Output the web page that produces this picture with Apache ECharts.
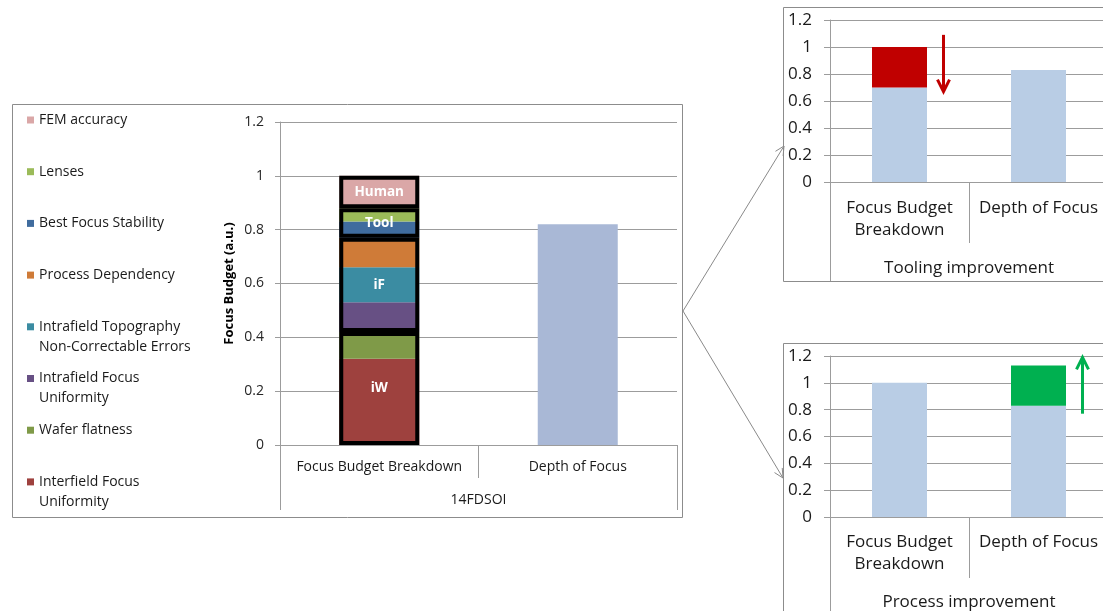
<!DOCTYPE html>
<html><head><meta charset="utf-8">
<script src="https://cdn.jsdelivr.net/npm/echarts@6/dist/echarts.min.js"></script>
<style>html,body{margin:0;padding:0;background:#fff;}#c{width:1103px;height:611px;}</style>
</head><body><div id="c"></div>
<script>
// ---- data ----
const categories = ['Focus Budget Breakdown', 'Depth of Focus'];
const groupCategory = ['14FDSOI'];
const componentNames = ['Interfield Focus\nUniformity', 'Wafer flatness', 'Intrafield Focus\nUniformity',
  'Intrafield Topography\nNon-Correctable Errors', 'Process Dependency', 'Best Focus Stability', 'Lenses', 'FEM accuracy'];
const componentValues = [0.32, 0.10, 0.11, 0.13, 0.11, 0.06, 0.05, 0.12];
const groupLabels = ['iW', 'iF', 'Tool', 'Human'];
const groupSizes = [2, 3, 2, 1];
const depthOfFocus = ['-', 0.82];
const yMin = 0, yMax = 1.2, yStep = 0.2;

const smallCategories = ['Focus Budget\nBreakdown', 'Depth of Focus'];
const toolingTitle = ['Tooling improvement'];
const toolingBase = [0.70, 0.83];
const toolingReduction = [0.30, '-'];
const processTitle = ['Process improvement'];
const processBase = [1.00, 0.83];
const processGain = ['-', 0.30];

// ---- styles ----
const componentColors = ['#9E413E', '#7F9A48', '#675084', '#3B8CA2', '#CF7B38', '#406C9E', '#9BBB59', '#DAA7A7'];
const FONT = 'Open Sans';
const gridGray = '#9c9c9c';

// group sums
const groupValues = [];
let k = 0;
groupSizes.forEach(n => {
  let s = 0;
  for (let j = 0; j < n; j++) s += componentValues[k++];
  groupValues.push(+s.toFixed(4));
});

const chart = echarts.init(document.getElementById('c'), null, {renderer: 'canvas'});

const series = [];
componentNames.forEach((name, i) => {
  series.push({
    type: 'bar', name, xAxisIndex: 0, yAxisIndex: 0, stack: 'budget',
    barWidth: 80, barGap: '-100%',
    itemStyle: {color: componentColors[i]},
    data: [componentValues[i], '-']
  });
});
series.push({
  type: 'bar', name: 'Depth of Focus', xAxisIndex: 0, yAxisIndex: 0, stack: 'budget',
  barWidth: 80, barGap: '-100%', itemStyle: {color: '#A9B8D6'}, data: depthOfFocus
});
groupLabels.forEach((g, i) => {
  series.push({
    type: 'bar', name: 'box-' + g, xAxisIndex: 0, yAxisIndex: 0, stack: 'box',
    barWidth: 80, barGap: '-100%', silent: true,
    itemStyle: {color: 'rgba(0,0,0,0)', borderColor: '#000', borderWidth: 4},
    label: {show: true, position: 'inside', formatter: g, color: '#fff', fontWeight: 'bold',
      fontSize: 13.5, fontFamily: FONT},
    data: [groupValues[i], '-']
  });
});
// small charts
series.push({type: 'bar', xAxisIndex: 2, yAxisIndex: 1, stack: 't', barWidth: 55,
  itemStyle: {color: '#B9CDE5'}, data: toolingBase});
series.push({type: 'bar', xAxisIndex: 2, yAxisIndex: 1, stack: 't', barWidth: 55,
  itemStyle: {color: '#C00000'}, data: toolingReduction});
series.push({type: 'bar', xAxisIndex: 4, yAxisIndex: 2, stack: 'p', barWidth: 55,
  itemStyle: {color: '#B9CDE5'}, data: processBase});
series.push({type: 'bar', xAxisIndex: 4, yAxisIndex: 2, stack: 'p', barWidth: 55,
  itemStyle: {color: '#00B050'}, data: processGain});

// legends (top item = last component)
const legends = [];
const legendFirst = 120, legendStep = 51.7;
for (let r = 0; r < componentNames.length; r++) {
  const name = componentNames[componentNames.length - 1 - r];
  const two = name.indexOf('\n') >= 0;
  const center = legendFirst + r * legendStep;
  legends.push({
    data: [name], left: 27, top: center - (two ? 30 : 10), padding: 0,
    itemWidth: 7, itemHeight: 7, icon: 'rect', selectedMode: false,
    // a leading blank line keeps the first text line level with the colour square
    formatter: n => (two ? '\n' + n : n),
    textStyle: {fontSize: 14, fontFamily: FONT, color: '#1a1a1a', lineHeight: 20}
  });
}

function catAxis(grid, data, opts) {
  return Object.assign({
    type: 'category', gridIndex: grid, data, position: 'bottom',
    axisLine: {show: true, lineStyle: {color: gridGray, width: 1}},
    axisTick: {show: true, alignWithLabel: false, interval: 0, lineStyle: {color: gridGray, width: 1}},
    axisLabel: {interval: 0, color: '#1a1a1a', fontFamily: FONT},
    splitLine: {show: false}
  }, opts);
}
function valAxis(grid, opts) {
  return Object.assign({
    type: 'value', gridIndex: grid, min: yMin, max: yMax, interval: yStep,
    axisLine: {show: true, lineStyle: {color: gridGray, width: 1}},
    axisTick: {show: true, length: 5, lineStyle: {color: gridGray}},
    splitLine: {show: true, lineStyle: {color: gridGray, width: 1}},
  }, opts);
}

const xAxis = [
  catAxis(0, categories, {axisTick: {show: true, length: 33, interval: 0, lineStyle: {color: gridGray}},
    axisLabel: {interval: 0, margin: 15, fontSize: 14, color: '#1a1a1a', fontFamily: FONT}}),
  catAxis(0, groupCategory, {axisLine: {show: false}, axisTick: {show: true, length: 65, lineStyle: {color: gridGray}},
    axisLabel: {margin: 48, fontSize: 14, color: '#1a1a1a', fontFamily: FONT}}),
  catAxis(1, smallCategories, {axisTick: {show: true, length: 61, interval: 0, lineStyle: {color: gridGray}},
    axisLabel: {interval: 0, margin: 15, fontSize: 17, lineHeight: 22, color: '#1a1a1a', fontFamily: FONT}}),
  catAxis(1, toolingTitle, {axisLine: {show: false}, axisTick: {show: true, length: 99, lineStyle: {color: gridGray}},
    axisLabel: {margin: 78, fontSize: 17, color: '#1a1a1a', fontFamily: FONT}}),
  catAxis(2, smallCategories, {axisTick: {show: true, length: 61, interval: 0, lineStyle: {color: gridGray}},
    axisLabel: {interval: 0, margin: 14, fontSize: 17, lineHeight: 22, color: '#1a1a1a', fontFamily: FONT}}),
  catAxis(2, processTitle, {axisLine: {show: false}, axisTick: {show: true, length: 120, lineStyle: {color: gridGray}},
    axisLabel: {margin: 77, fontSize: 17, color: '#1a1a1a', fontFamily: FONT}})
];
const yAxis = [
  valAxis(0, {name: 'Focus Budget (a.u.)', nameLocation: 'middle', nameGap: 44, nameRotate: 90,
    nameTextStyle: {fontSize: 13, fontWeight: 'bold', color: '#000', fontFamily: FONT},
    axisLabel: {margin: 16, fontSize: 14, color: '#262626', fontFamily: FONT}}),
  valAxis(1, {axisTick: {show: true, length: 6, lineStyle: {color: gridGray}},
    axisLabel: {margin: 18, fontSize: 17, color: '#1a1a1a', fontFamily: FONT}}),
  valAxis(2, {axisTick: {show: true, length: 6, lineStyle: {color: gridGray}},
    axisLabel: {margin: 18, fontSize: 17, color: '#1a1a1a', fontFamily: FONT}})
];

chart.setOption({
  animation: false,
  backgroundColor: '#fff',
  textStyle: {fontFamily: FONT},
  legend: legends,
  grid: [
    {left: 280, top: 122, width: 397, height: 323, containLabel: false, outerBoundsMode: 'none'},
    {left: 830, top: 20, width: 278, height: 162, containLabel: false, outerBoundsMode: 'none'},
    {left: 830, top: 356, width: 278, height: 161, containLabel: false, outerBoundsMode: 'none'}
  ],
  xAxis, yAxis, series
});

// ---- annotations ----
function arrowHead(tip, from, len, half, style) {
  const dx = tip[0] - from[0], dy = tip[1] - from[1];
  const L = Math.hypot(dx, dy), ux = dx / L, uy = dy / L;
  const bx = tip[0] - ux * len, by = tip[1] - uy * len;
  return {type: 'polyline', shape: {points: [[bx - uy * half, by + ux * half], tip, [bx + uy * half, by - ux * half]]},
    style: Object.assign({fill: null}, style)};
}
const frameStyle = {fill: null, stroke: '#8c8c8c', lineWidth: 1};
const connStyle = {stroke: '#8a8a8a', lineWidth: 1};
const src = [683, 311], up = [784, 146], down = [783, 478];

const pRedTop = chart.convertToPixel({xAxisIndex: 2, yAxisIndex: 1}, [0, 1.09]);
const pRedBot = chart.convertToPixel({xAxisIndex: 2, yAxisIndex: 1}, [0, 0.67]);
const pGrBot = chart.convertToPixel({xAxisIndex: 4, yAxisIndex: 2}, [1, 0.77]);
const pGrTop = chart.convertToPixel({xAxisIndex: 4, yAxisIndex: 2}, [1, 1.19]);
const redX = pRedTop[0] + 44, grX = pGrTop[0] + 44;
const redStyle = {stroke: '#C00000', lineWidth: 3};
const grStyle = {stroke: '#00B050', lineWidth: 3};

chart.setOption({
  graphic: [
    {type: 'rect', shape: {x: 12.5, y: 104.5, width: 670, height: 413}, style: frameStyle, z: 0},
    {type: 'rect', shape: {x: 783.5, y: 7.5, width: 340, height: 274}, style: frameStyle, z: 0},
    {type: 'rect', shape: {x: 783.5, y: 343.5, width: 340, height: 300}, style: frameStyle, z: 0},
    {type: 'line', shape: {x1: src[0], y1: src[1], x2: up[0], y2: up[1]}, style: connStyle},
    arrowHead(up, src, 9, 4.5, connStyle),
    {type: 'line', shape: {x1: src[0], y1: src[1], x2: down[0], y2: down[1]}, style: connStyle},
    arrowHead(down, src, 9, 4.5, connStyle),
    {type: 'line', shape: {x1: redX, y1: pRedTop[1], x2: redX, y2: pRedBot[1] - 2}, style: redStyle},
    arrowHead([redX, pRedBot[1]], [redX, pRedTop[1]], 12, 6, redStyle),
    {type: 'line', shape: {x1: grX, y1: pGrBot[1], x2: grX, y2: pGrTop[1] + 2}, style: grStyle},
    arrowHead([grX, pGrTop[1]], [grX, pGrBot[1]], 12, 6, grStyle)
  ]
});
</script></body></html>
